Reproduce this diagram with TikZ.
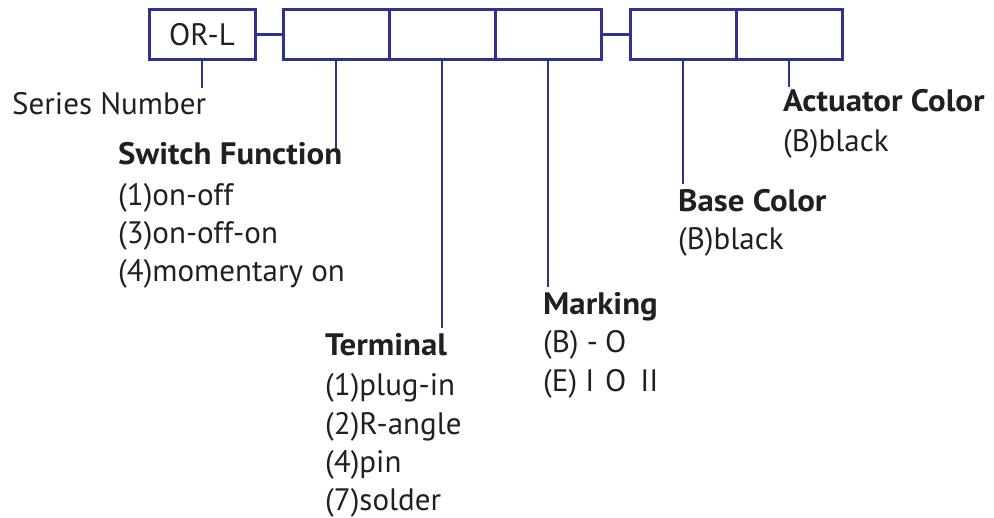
\documentclass[tikz,border=0pt]{standalone}
\usepackage{fontspec}
\setmainfont{PT Sans}[BoldFeatures={FakeStretch=1.06}]
\definecolor{frame}{RGB}{46,49,146}
\definecolor{ink}{RGB}{35,31,32}
\begin{document}
\begin{tikzpicture}[x=1pt,y=-1pt,
  cell/.style={draw=frame,line width=3pt,minimum width=106pt,minimum height=50pt,inner sep=0pt,outer sep=0pt,text=ink,font=\fontsize{31}{37}\selectfont},
  link/.style={draw=frame,line width=3pt},
  lead/.style={draw=frame,line width=2.6pt},
  txt/.style={anchor=base west,inner sep=0pt,text=ink,font=\fontsize{31}{37}\selectfont},
  head/.style={txt,font=\fontsize{31}{37}\selectfont\bfseries}]
\useasboundingbox (0,0) rectangle (994,518);
% boxes
\node[cell] (orl) at (202,34.5) {OR-L};
\node[cell] (b1) at (336,34.5) {};
\node[cell] (b2) at (442,34.5) {};
\node[cell] (b3) at (548,34.5) {};
\node[cell] (b4) at (683,34.5) {};
\node[cell] (b5) at (789,34.5) {};
\draw[link] (orl.east) -- (b1.west);
\draw[link] (b3.east) -- (b4.west);
% labels
\node[txt] (sn) at (12,115) {Series Number};
\node[head] (sf) at (118,165) {Switch Function};
\node[txt] (sf1) at (118,206) {(1)on-off};
\node[txt] (sf2) at (118,244) {(3)on-off-on};
\node[txt] (sf3) at (118,282) {(4)momentary on};
\node[head] (te) at (325,356) {Terminal};
\node[txt] (te1) at (325,396) {(1)plug-in};
\node[txt] (te2) at (325,435) {(2)R-angle};
\node[txt] (te3) at (325,473) {(4)pin};
\node[txt] (te4) at (325,511) {(7)solder};
\node[head] (mk) at (543,315) {Marking};
\node[txt] (mk1) at (543,353) {\makebox[62pt][l]{(B) -}O};
\node[txt] (mk2) at (543,392) {\makebox[62pt][l]{(E) I}O\hspace{14pt}II};
\node[head] (bc) at (678,212) {Base Color};
\node[txt] (bc1) at (678,250) {(B)black};
\node[head] (ac) at (783,112) {Actuator Color};
\node[txt] (ac1) at (783,152) {(B)black};
% leaders
\coordinate (snE) at (202,88);
\coordinate (sfE) at (336,149);
\coordinate (teE) at (442,328);
\coordinate (mkE) at (548,287);
\coordinate (bcE) at (683,184);
\coordinate (acE) at (789,87);
\draw[lead] (orl.south) -- (snE);
\draw[lead] (b1.south) -- (sfE);
\draw[lead] (b2.south) -- (teE);
\draw[lead] (b3.south) -- (mkE);
\draw[lead] (b4.south) -- (bcE);
\draw[lead] (b5.south) -- (acE);
\end{tikzpicture}
\end{document}
